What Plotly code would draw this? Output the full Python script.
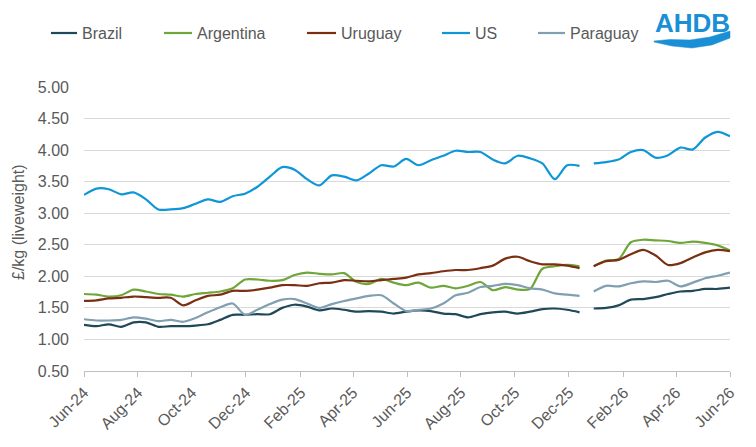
import plotly.graph_objects as go
import pandas as pd

# ---------------- data ----------------
dates_seg1 = pd.date_range("2024-06-01", periods=41, freq="14D")
dates_seg2 = pd.date_range("2025-12-29", periods=12, freq="14D")
gap_date = pd.Timestamp("2025-12-22")

brazil_1 = [1.23, 1.21, 1.24, 1.20, 1.27, 1.27, 1.20, 1.21, 1.21, 1.22, 1.24, 1.31,
            1.39, 1.39, 1.40, 1.40, 1.50, 1.55, 1.52, 1.46, 1.49, 1.47, 1.44, 1.45, 1.44, 1.41,
            1.44, 1.46, 1.45, 1.41, 1.40, 1.35, 1.40, 1.43, 1.44, 1.41, 1.44, 1.48, 1.49, 1.47, 1.43]
brazil_2 = [1.49, 1.50, 1.54, 1.63, 1.64, 1.67, 1.72, 1.76, 1.77, 1.80, 1.80, 1.82]

argentina_1 = [1.72, 1.71, 1.68, 1.70, 1.79, 1.76, 1.72, 1.71, 1.68, 1.72, 1.74, 1.76,
               1.81, 1.95, 1.95, 1.93, 1.94, 2.02, 2.06, 2.04, 2.03, 2.05, 1.91, 1.88, 1.96, 1.90,
               1.86, 1.90, 1.82, 1.85, 1.81, 1.85, 1.91, 1.78, 1.83, 1.79, 1.80, 2.12, 2.16, 2.18, 2.16]
argentina_2 = [2.16, 2.25, 2.27, 2.54, 2.58, 2.57, 2.56, 2.53, 2.55, 2.53, 2.49, 2.41]

uruguay_1 = [1.61, 1.62, 1.65, 1.66, 1.68, 1.67, 1.66, 1.66, 1.54, 1.62, 1.69, 1.71,
             1.77, 1.77, 1.79, 1.82, 1.86, 1.86, 1.85, 1.89, 1.90, 1.94, 1.93, 1.92, 1.94, 1.96,
             1.98, 2.03, 2.05, 2.08, 2.10, 2.10, 2.13, 2.17, 2.28, 2.31, 2.24, 2.19, 2.19, 2.17, 2.13]
uruguay_2 = [2.16, 2.24, 2.26, 2.35, 2.42, 2.33, 2.18, 2.21, 2.30, 2.38, 2.42, 2.40]

us_1 = [3.29, 3.39, 3.38, 3.30, 3.33, 3.22, 3.06, 3.06, 3.08, 3.15, 3.22, 3.18,
        3.27, 3.31, 3.42, 3.58, 3.73, 3.69, 3.54, 3.44, 3.60, 3.58, 3.52, 3.63, 3.76, 3.74,
        3.86, 3.76, 3.84, 3.91, 3.99, 3.97, 3.97, 3.85, 3.79, 3.91, 3.87, 3.79, 3.54, 3.76, 3.75]
us_2 = [3.79, 3.81, 3.85, 3.97, 4.00, 3.88, 3.92, 4.04, 4.01, 4.20, 4.29, 4.22]

paraguay_1 = [1.32, 1.30, 1.30, 1.31, 1.35, 1.33, 1.29, 1.31, 1.28, 1.34, 1.43, 1.51,
              1.57, 1.39, 1.47, 1.56, 1.63, 1.64, 1.57, 1.50, 1.56, 1.61, 1.65, 1.69, 1.70, 1.57,
              1.45, 1.47, 1.49, 1.57, 1.70, 1.74, 1.83, 1.85, 1.88, 1.86, 1.81, 1.79, 1.73, 1.71, 1.69]
paraguay_2 = [1.76, 1.85, 1.84, 1.89, 1.92, 1.91, 1.93, 1.84, 1.90, 1.97, 2.01, 2.06]

tick_dates = ["2024-06-01", "2024-08-01", "2024-10-01", "2024-12-01", "2025-02-01",
              "2025-04-01", "2025-06-01", "2025-08-01", "2025-10-01", "2025-12-01",
              "2026-02-01", "2026-04-01", "2026-06-01"]
tick_labels = ["Jun-24", "Aug-24", "Oct-24", "Dec-24", "Feb-25", "Apr-25", "Jun-25",
               "Aug-25", "Oct-25", "Dec-25", "Feb-26", "Apr-26", "Jun-26"]

series_names = ["Brazil", "Argentina", "Uruguay", "US", "Paraguay"]
series_colors = ["#1F4859", "#6FA63A", "#7A2E12", "#0F96D8", "#809FB0"]
series_data = [(brazil_1, brazil_2), (argentina_1, argentina_2), (uruguay_1, uruguay_2),
               (us_1, us_2), (paraguay_1, paraguay_2)]

# ---------------- layout geometry (pixels) ----------------
W, H = 756, 447
PL, PR, PT, PB = 84, 730, 87, 371
def px(x):  # pixel -> paper x
    return (x - PL) / (PR - PL)
def py(y):  # pixel -> paper y
    return (PB - y) / (PB - PT)

TXT = "#595959"
FONT = "Liberation Sans, Arial, sans-serif"

x_all = list(dates_seg1) + [gap_date] + list(dates_seg2)

fig = go.Figure()
# draw order: Paraguay/US first so dark lines on top similar to reference
for name, color, (a, b) in zip(series_names, series_colors, series_data):
    fig.add_trace(go.Scatter(
        x=x_all, y=list(a) + [None] + list(b), name=name, mode="lines",
        line=dict(color=color, width=2.2, shape="spline", smoothing=0.8),
        connectgaps=False, showlegend=False, hoverinfo="x+y+name"))

# manual legend
leg_line = [(51, 77), (164, 192), (307, 336), (442, 470), (538, 565)]
leg_y = 33
shapes = []
annotations = []
for name, color, (x0, x1) in zip(series_names, series_colors, leg_line):
    shapes.append(dict(type="line", xref="paper", yref="paper",
                       x0=px(x0), x1=px(x1), y0=py(leg_y), y1=py(leg_y),
                       line=dict(color=color, width=2.2)))
    annotations.append(dict(text=name, xref="paper", yref="paper",
                            x=px(x1 + 3), y=py(leg_y), xanchor="left", yanchor="middle",
                            showarrow=False, font=dict(size=16, color=TXT, family=FONT)))

# y-axis title
annotations.append(dict(text="£/kg (liveweight)", xref="paper", yref="paper",
                        x=px(18), y=py(222), xanchor="center", yanchor="middle",
                        textangle=-90, showarrow=False,
                        font=dict(size=16, color=TXT, family=FONT)))

# AHDB logo (text + swoosh)
LOGO = "#1A8FD5"
annotations.append(dict(text="<b>AHDB</b>", xref="paper", yref="paper",
                        x=px(692), y=py(23), xanchor="center", yanchor="middle",
                        showarrow=False,
                        font=dict(size=26, color=LOGO, family="Liberation Sans Narrow, Arial Narrow, Liberation Sans, Arial")))
pts_top = [(654, 41), (670, 39.5), (690, 40), (710, 37), (730, 31)]
pts_bot = [(730, 38), (712, 45), (692, 48), (672, 46), (654, 42)]
path = "M " + " L ".join(f"{px(x):.4f},{py(y):.4f}" for x, y in pts_top + pts_bot) + " Z"
shapes.append(dict(type="path", xref="paper", yref="paper", path=path,
                   fillcolor=LOGO, line=dict(color=LOGO, width=0.5)))

fig.update_layout(
    width=W, height=H,
    margin=dict(l=PL, r=W - PR, t=PT, b=H - PB, pad=0),
    paper_bgcolor="white", plot_bgcolor="white",
    font=dict(family=FONT, size=16, color=TXT),
    shapes=shapes, annotations=annotations,
    showlegend=False,
    xaxis=dict(type="date", range=["2024-06-01", "2026-06-01"],
               tickvals=tick_dates, ticktext=tick_labels, tickangle=-45,
               showgrid=False, showline=True, linecolor="#BFBFBF", linewidth=1,
               ticks="outside", ticklen=5, tickcolor="#BFBFBF",
               tickfont=dict(size=16, color=TXT, family=FONT), zeroline=False),
    yaxis=dict(range=[0.5, 5.0], dtick=0.5, tick0=0.5, tickformat=".2f",
               showgrid=True, gridcolor="#D9D9D9", gridwidth=1,
               showline=False, zeroline=False, ticks="",
               ticklabelstandoff=14,
               tickfont=dict(size=16, color=TXT, family=FONT)),
)

fig.write_html("out.html")
